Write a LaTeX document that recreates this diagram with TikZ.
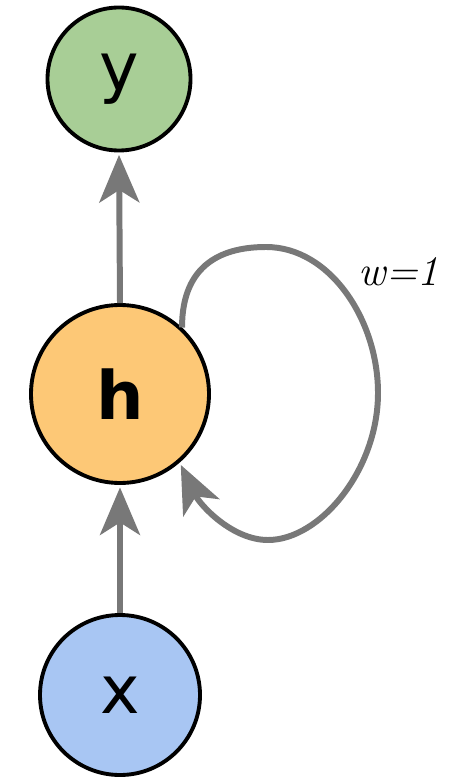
\documentclass[tikz,border=0pt]{standalone}
\usepackage{fontspec}
\newfontfamily\nodefont{DejaVu Sans}
\usetikzlibrary{arrows.meta}
\definecolor{ygreen}{RGB}{168,206,150}
\definecolor{horange}{RGB}{253,200,118}
\definecolor{xblue}{RGB}{168,198,243}
\definecolor{linkgray}{RGB}{120,120,120}
\begin{document}
\begin{tikzpicture}[x=0.2mm,y=-0.2mm,
  unit/.style={circle,draw=black,line width=2.2pt,inner sep=0pt,
    font=\nodefont\fontsize{38}{40}\selectfont},
  link/.style={draw=linkgray,line width=3.4pt,
    -{Stealth[length=9.5mm,width=8mm,inset=2.5mm]},shorten >=0.5mm}]
  \useasboundingbox (0,0) rectangle (449,778);
  \node[unit,fill=ygreen,minimum size=2.86cm] (y) at (119,79) {y};
  \node[unit,fill=horange,minimum size=3.56cm] (h) at (120,394) {\bfseries h};
  \node[unit,fill=xblue,minimum size=3.2cm] (x) at (120,695) {x};
  \draw[link] (x.north) -- (h.south);
  \draw[link] (h.north) -- (y.south);
  \draw[link] (h.47) .. controls (182,262) and (225,247) .. (266,247)
    .. controls (330,247) and (378,320) .. (378,393)
    .. controls (378,470) and (320,540) .. (268,540)
    .. controls (232,540) and (200,505) .. (h.-49);
  \node[font=\fontsize{24}{26}\selectfont] (w) at (399,272) {\textit{w=1}};
\end{tikzpicture}
\end{document}
